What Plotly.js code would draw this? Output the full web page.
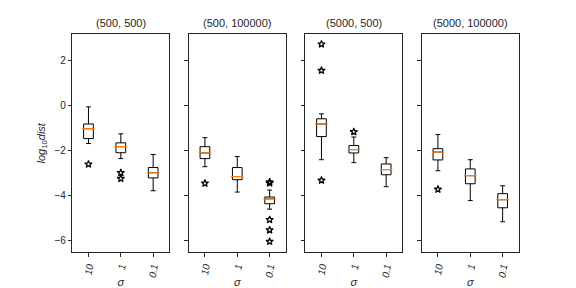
<!DOCTYPE html>
<html><head><meta charset="utf-8">
<script src="https://cdn.plot.ly/plotly-3.0.1.min.js"></script>
<style>html,body{margin:0;padding:0;background:#fff}#c{width:576px;height:288px}</style>
</head><body><div id="c"></div>
<script>
const panelTitles = ['(500, 500)', '(500, 100000)', '(5000, 500)', '(5000, 100000)'];
const sigmas = ['10', '1', '0.1'];
const sigmaLabels = ['<i>10</i>', '<i>1</i>', '<i>0.1</i>'];
// per panel, per sigma
const lowerWhisker = [[-1.69, -2.36, -3.79], [-2.72, -3.85, -4.61], [-2.41, -2.54, -3.61], [-2.90, -4.23, -5.17]];
const q1 = [[-1.47, -2.10, -3.22], [-2.36, -3.30, -4.37], [-1.38, -2.11, -3.08], [-2.42, -3.48, -4.55]];
const median = [[-1.03, -1.83, -2.99], [-2.11, -3.16, -4.15], [-0.82, -1.96, -2.85], [-2.07, -3.12, -4.19]];
const q3 = [[-0.82, -1.66, -2.76], [-1.83, -2.76, -4.07], [-0.59, -1.78, -2.60], [-1.92, -2.82, -3.92]];
const upperWhisker = [[-0.06, -1.26, -2.18], [-1.43, -2.27, -3.76], [-0.37, -1.40, -2.32], [-1.29, -2.41, -3.57]];
// outliers
const outlierSigma = [['10', '1', '1'], ['10', '0.1', '0.1', '0.1', '0.1', '0.1'], ['10', '10', '10', '1'], ['10']];
const outlierValue = [[-2.61, -2.99, -3.25], [-3.46, -3.40, -3.45, -5.08, -5.54, -6.05], [2.73, 1.56, -3.33, -1.17], [-3.73]];

const domains = [[0.1255, 0.2940], [0.3277, 0.4962], [0.5300, 0.6985], [0.7322, 0.9007]];
const font = {family: 'Liberation Sans, Arial, sans-serif', size: 10, color: '#262626'};
const traces = [];
const layout = {
  width: 576, height: 288, margin: {l: 0, r: 0, t: 0, b: 0},
  paper_bgcolor: '#fff', plot_bgcolor: '#fff', showlegend: false, font: font,
  annotations: []
};
for (let p = 0; p < 4; p++) {
  const xa = p === 0 ? 'x' : 'x' + (p + 1);
  const ya = p === 0 ? 'y' : 'y' + (p + 1);
  traces.push({
    type: 'box', xaxis: xa, yaxis: ya, x: sigmas,
    q1: q1[p], median: median[p], q3: q3[p],
    lowerfence: lowerWhisker[p], upperfence: upperWhisker[p],
    width: 0.3, whiskerwidth: 0.5, boxpoints: false,
    line: {color: '#000', width: 1}, fillcolor: 'rgba(255,255,255,0)',
    hoverinfo: 'skip'
  });
  traces.push({
    type: 'scatter', mode: 'markers', xaxis: xa, yaxis: ya, x: sigmas, y: median[p],
    marker: {symbol: 'line-ew', size: 9, line: {color: '#ff7f0e', width: 1.2}},
    hoverinfo: 'skip'
  });
  traces.push({
    type: 'scatter', mode: 'markers', xaxis: xa, yaxis: ya, x: outlierSigma[p], y: outlierValue[p],
    marker: {symbol: 'star-open', size: 5.5, color: '#000', line: {color: '#000', width: 1.2}},
    hoverinfo: 'skip'
  });
  const k = p === 0 ? '' : String(p + 1);
  layout['xaxis' + k] = {
    domain: domains[p], anchor: ya, type: 'category', range: [-0.5, 2.5],
    tickvals: sigmas, ticktext: sigmaLabels, tickangle: -80,
    showline: true, mirror: true, linecolor: '#262626', linewidth: 1,
    ticks: 'outside', ticklen: 3.5, tickcolor: '#262626', showgrid: false, zeroline: false,
    tickfont: {family: font.family, size: 10, color: '#262626'},
    title: {text: '<i>σ</i>', font: {family: font.family, size: 11, color: '#262626'}, standoff: 4}
  };
  const yax = {
    domain: [1 - 252.3 / 288, 1 - 34.3 / 288], anchor: xa, range: [-6.53, 3.17],
    tickvals: [-6, -4, -2, 0, 2], showticklabels: p === 0,
    showline: true, mirror: true, linecolor: '#262626', linewidth: 1,
    ticks: 'outside', ticklen: 3.5, tickcolor: '#262626', showgrid: false, zeroline: false,
    tickfont: {family: font.family, size: 10, color: '#262626'}
  };
  if (p === 0) {
    yax.title = {text: '<i>log</i><sub>10</sub><i>dist</i>', font: {family: font.family, size: 11, color: '#262626'}, standoff: 6};
  }
  layout['yaxis' + k] = yax;
  layout.annotations.push({
    text: panelTitles[p], xref: 'paper', yref: 'paper',
    x: (domains[p][0] + domains[p][1]) / 2, y: 1 - 34.3 / 288,
    xanchor: 'center', yanchor: 'bottom', yshift: 3, showarrow: false,
    font: {family: font.family, size: 11, color: '#262626'}
  });
}
Plotly.newPlot('c', traces, layout, {staticPlot: true});
</script></body></html>
